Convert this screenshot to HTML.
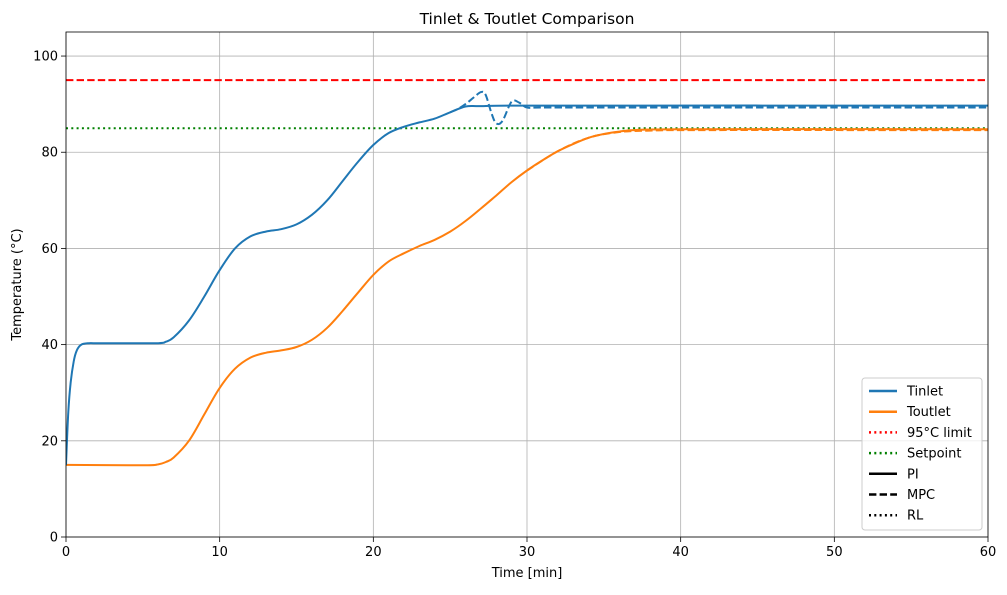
<!DOCTYPE html>
<html><head><meta charset="utf-8"><style>
body{margin:0;background:#fff;font-family:"Liberation Sans","DejaVu Sans",sans-serif;}
svg text{font-family:"DejaVu Sans","Liberation Sans",sans-serif;}
</style></head><body>
<svg id="chart" width="1007" height="590" xmlns="http://www.w3.org/2000/svg">
</svg>
<script>
const xTicks=[0,10,20,30,40,50,60];
const yTicks=[0,20,40,60,80,100];
const tinT=[0,0.15,0.3,0.5,0.7,1,1.5,2,6,6.5,7,8,9,10,11,12,13,14,15,16,17,18,19,20,21,22,23,24,25,26,27,30,60];
const tinPI=[15,26,32,36.5,38.8,40,40.3,40.3,40.3,40.6,41.5,45,50,55.5,60,62.5,63.5,64,65,67,70,74,78,81.5,84,85.3,86.2,87,88.3,89.5,89.6,89.7,89.7];
const tinMpcT=[25,25.5,26,26.5,27,27.3,27.7,28,28.4,29,29.5,30,31,60];
const tinMpcV=[88.3,89,90,91.3,92.5,92,88,86,86.5,90.5,90.3,89.3,89.3,89.3];
const toutT=[0,5,6,6.5,7,8,9,10,11,12,13,14,15,16,17,18,19,20,21,22,23,24,25,26,27,28,29,30,31,32,33,34,35,36,37,40,60];
const toutPI=[15,14.9,15.1,15.6,16.5,20,25.5,31,35,37.3,38.3,38.8,39.5,41,43.5,47,50.8,54.5,57.3,59,60.5,61.8,63.5,65.7,68.3,71,73.8,76.2,78.3,80.2,81.7,83,83.8,84.3,84.6,84.8,84.8];
const toutMpcT=[30,32,34,36,38,40,60];
const toutMpcV=[76.2,80.2,83,84.2,84.5,84.6,84.6];
const limitVal=95, setpointVal=85;
const X0=66,X1=988,Y0=537,Y1=32,XMAX=60,YMAX=105;
const xs=v=>X0+(X1-X0)*v/XMAX, ys=v=>Y0-(Y0-Y1)*v/YMAX;
const svg=document.getElementById('chart');
const NS='http://www.w3.org/2000/svg';
function mk(tag,attrs,parent){const e=document.createElementNS(NS,tag);for(const k in attrs)e.setAttribute(k,attrs[k]);(parent||svg).appendChild(e);return e;}
function path(tx,vy){
  const P=tx.map((t,i)=>[xs(t),ys(vy[i])]);
  let d='M'+P[0][0].toFixed(1)+','+P[0][1].toFixed(1);
  for(let i=0;i<P.length-1;i++){
    const p0=P[Math.max(0,i-1)],p1=P[i],p2=P[i+1],p3=P[Math.min(P.length-1,i+2)];
    const c1=[p1[0]+(p2[0]-p0[0])/6,p1[1]+(p2[1]-p0[1])/6];
    const c2=[p2[0]-(p3[0]-p1[0])/6,p2[1]-(p3[1]-p1[1])/6];
    c1[0]=Math.min(Math.max(c1[0],p1[0]),p2[0]);c2[0]=Math.min(Math.max(c2[0],p1[0]),p2[0]);
    d+='C'+c1.map(v=>v.toFixed(1)).join(',')+' '+c2.map(v=>v.toFixed(1)).join(',')+' '+p2[0].toFixed(1)+','+p2[1].toFixed(1);
  }
  return d;
}
let el;
xTicks.forEach(t=>{
el=mk('line',{x1:xs(t),x2:xs(t),y1:Y1,y2:Y0,stroke:'#b0b0b0','stroke-width':0.8});


mk('line',{x1:xs(t),x2:xs(t),y1:Y0,y2:Y0+5,stroke:'#000','stroke-width':0.8});
el=mk('text',{x:xs(t),y:Y0+19,'text-anchor':'middle','font-size':13});el.textContent=t;


});
yTicks.forEach(v=>{
el=mk('line',{x1:X0,x2:X1,y1:ys(v),y2:ys(v),stroke:'#b0b0b0','stroke-width':0.8});


mk('line',{x1:X0-5,x2:X0,y1:ys(v),y2:ys(v),stroke:'#000','stroke-width':0.8});
el=mk('text',{x:X0-8,y:ys(v)+4.5,'text-anchor':'end','font-size':13});el.textContent=v;


});
const g=mk('g',{'clip-path':'url(#clip)'});
const defs=mk('defs',{});const cp=mk('clipPath',{id:'clip'},defs);mk('rect',{x:X0,y:Y1,width:X1-X0,height:Y0-Y1},cp);
el=mk('line',{x1:X0,x2:X1,y1:ys(limitVal),y2:ys(limitVal),stroke:'#ff0000','stroke-width':2,'stroke-dasharray':'7.4,3.2'},g);


el=mk('line',{x1:X0,x2:X1,y1:ys(setpointVal),y2:ys(setpointVal),stroke:'#008000','stroke-width':2,'stroke-dasharray':'2,3.3'},g);


const C1='#1f77b4',C2='#ff7f0e';
el=mk('path',{d:path(toutT,toutPI),fill:'none',stroke:C2,'stroke-width':2,'stroke-linejoin':'round'},g);


el=mk('path',{d:path(toutMpcT,toutMpcV),fill:'none',stroke:C2,'stroke-width':2,'stroke-dasharray':'7.4,3.2'},g);


el=mk('path',{d:path(tinT,tinPI),fill:'none',stroke:C1,'stroke-width':2,'stroke-linejoin':'round'},g);


el=mk('path',{d:path(tinMpcT,tinMpcV),fill:'none',stroke:C1,'stroke-width':2,'stroke-dasharray':'7.4,3.2','stroke-linejoin':'round'},g);


el=mk('rect',{x:X0,y:Y1,width:X1-X0,height:Y0-Y1,fill:'none',stroke:'#000','stroke-width':0.8});


el=mk('text',{x:(X0+X1)/2,y:24,'text-anchor':'middle','font-size':15.5});el.textContent='Tinlet & Toutlet Comparison';


el=mk('text',{x:(X0+X1)/2,y:577,'text-anchor':'middle','font-size':13});el.textContent='Time [min]';


el=mk('text',{x:21,y:(Y0+Y1)/2,'text-anchor':'middle','font-size':13,transform:'rotate(-90 21 '+((Y0+Y1)/2)+')'});el.textContent='Temperature (°C)';


const leg=mk('g',{});


mk('rect',{x:862,y:378,width:120,height:152,rx:3,fill:'#fff','fill-opacity':0.8,stroke:'#ccc'},leg);
const items=[['Tinlet',C1,''],['Toutlet',C2,''],['95°C limit','#ff0000','2,3.3'],['Setpoint','#008000','2,3.3'],['PI','#000',''],['MPC','#000','7.4,3.2'],['RL','#000','2,3.3']];
items.forEach((it,i)=>{const y=391+i*20.7;
const e=mk('g',{},leg);


const a={x1:869,x2:897,y1:y,y2:y,stroke:it[1],'stroke-width':2.5};if(it[2])a['stroke-dasharray']=it[2];mk('line',a,e);
const t=mk('text',{x:907,y:y+4.5,'font-size':13},e);t.textContent=it[0];});
</script>
</body></html>
